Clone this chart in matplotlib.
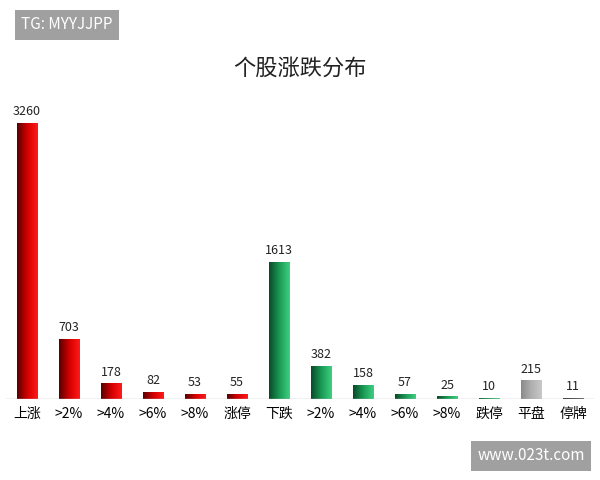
import numpy as np
import matplotlib.pyplot as plt
from matplotlib.colors import LinearSegmentedColormap

plt.rcParams['font.family'] = ['Noto Sans CJK SC', 'DejaVu Sans']

categories = ['上涨', '>2%', '>4%', '>6%', '>8%', '涨停', '下跌', '>2%', '>4%', '>6%', '>8%', '跌停', '平盘', '停牌']
values = [3260, 703, 178, 82, 53, 55, 1613, 382, 158, 57, 25, 10, 215, 11]
groups = ['up'] * 6 + ['down'] * 6 + ['flat', 'halt']

cmaps = {
    'up': LinearSegmentedColormap.from_list('up', ['#5a0000', '#d40000', '#ff1a1a']),
    'down': LinearSegmentedColormap.from_list('down', ['#0a4a28', '#1a9a55', '#3ecf80']),
    'flat': LinearSegmentedColormap.from_list('flat', ['#8a8a8a', '#b0b0b0', '#c8c8c8']),
    'halt': LinearSegmentedColormap.from_list('halt', ['#202020', '#404040', '#606060']),
}

fig = plt.figure(figsize=(6, 4.8), dpi=100)
ax = fig.add_axes([0.01, 0.169, 0.98, 0.67])
ax.set_xlim(-0.5, len(values) - 0.5)
ax.set_ylim(0, 3800)

grad = np.linspace(0, 1, 64).reshape(1, -1)
w = 0.48
for i, (v, g) in enumerate(zip(values, groups)):
    ax.imshow(grad, cmap=cmaps[g], aspect='auto', extent=(i - w / 2, i + w / 2, 0, v), zorder=2)
    ax.text(i, v + 60, str(v), ha='center', va='bottom', fontsize=9, color='#222222')

ax.axhline(0, color='#bbbbbb', lw=1)
ax.set_xticks(range(len(categories)))
ax.set_xticklabels(categories, fontsize=10)
ax.tick_params(axis='x', length=0, pad=6)
ax.set_yticks([])
for s in ax.spines.values():
    s.set_visible(False)

fig.text(0.5, 0.857, '个股涨跌分布', ha='center', va='center', fontsize=16, color='#222222')
fig.text(0.035, 0.948, 'TG: MYYJJPP', ha='left', va='center', fontsize=11, color='white',
         bbox=dict(boxstyle='square,pad=0.4', fc='#a0a0a0', ec='none'))
fig.text(0.975, 0.05, 'www.023t.com', ha='right', va='center', fontsize=11, color='white',
         bbox=dict(boxstyle='square,pad=0.4', fc='#a0a0a0', ec='none'))

fig.savefig('out.png', dpi=100)
